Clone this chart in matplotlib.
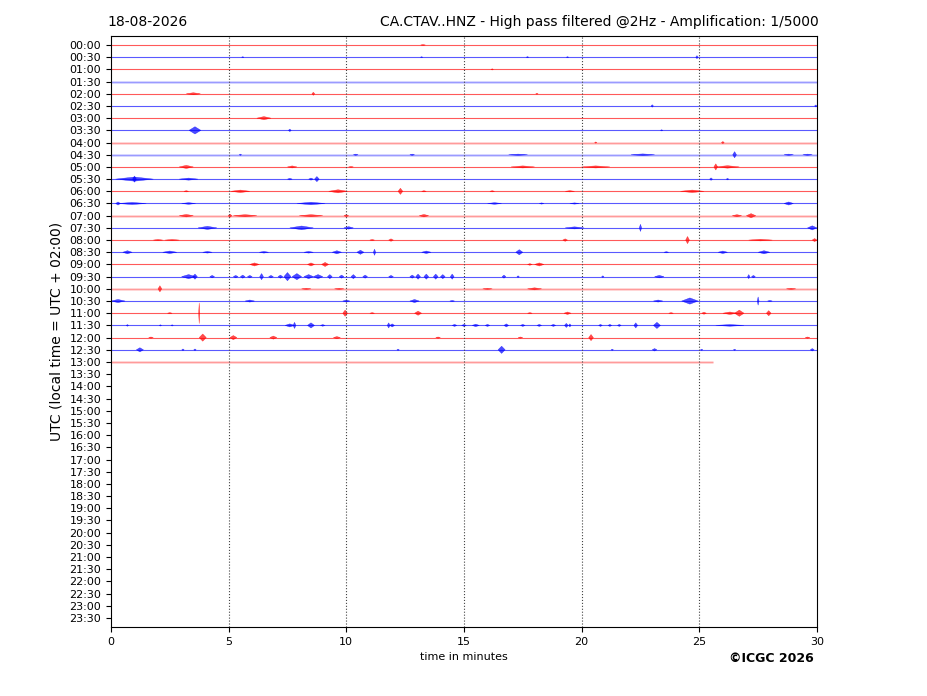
import matplotlib
matplotlib.use("Agg")
import matplotlib.pyplot as plt

# helicorder rows: one every 30 minutes, 00:00 .. 23:30
row_labels = ["%02d:%02d" % (h, m) for h in range(24) for m in (0, 30)]
n_rows_with_data = 27          # 00:00 .. 13:00
last_row_end = 25.6            # minutes recorded in the 13:00 row
pale_rows = [3, 8, 9, 14, 20, 26]   # rows drawn as noisy / faint

# seismic events: row -> [(minute, amplitude in rows, half width)]
events = {
    0: [(13.26, 0.05, 0.1)],
    1: [(5.6, 0.05, 0.05), (13.2, 0.05, 0.05), (17.7, 0.06, 0.05), (19.4, 0.05, 0.05), (24.9, 0.15, 0.05)],
    2: [(16.2, 0.06, 0.05)],
    4: [(3.5, 0.1, 0.3), (8.6, 0.15, 0.06), (18.1, 0.05, 0.05)],
    5: [(23.0, 0.12, 0.05), (29.95, 0.1, 0.05)],
    6: [(6.5, 0.15, 0.3)],
    7: [(3.57, 0.35, 0.25), (7.6, 0.12, 0.06), (23.4, 0.06, 0.05)],
    8: [(20.6, 0.06, 0.05), (26.0, 0.1, 0.06)],
    9: [(5.5, 0.06, 0.05), (10.4, 0.06, 0.1), (12.8, 0.06, 0.1), (17.3, 0.06, 0.4),
        (22.6, 0.08, 0.5), (26.5, 0.3, 0.08), (28.8, 0.06, 0.2), (29.6, 0.06, 0.2)],
    10: [(3.2, 0.15, 0.3), (7.7, 0.1, 0.2), (10.2, 0.05, 0.1), (17.5, 0.1, 0.5),
         (20.6, 0.1, 0.6), (25.7, 0.3, 0.08), (26.2, 0.12, 0.5)],
    11: [(1.0, 0.2, 0.8), (1.0, 0.3, 0.08), (3.3, 0.1, 0.4), (7.6, 0.08, 0.1),
         (8.5, 0.1, 0.1), (8.75, 0.25, 0.1), (25.5, 0.12, 0.06), (26.2, 0.08, 0.05)],
    12: [(3.2, 0.06, 0.1), (5.5, 0.12, 0.4), (9.65, 0.15, 0.4), (12.3, 0.3, 0.1),
         (13.3, 0.06, 0.1), (16.2, 0.06, 0.1), (19.5, 0.06, 0.2), (24.7, 0.12, 0.5)],
    13: [(0.3, 0.15, 0.1), (0.9, 0.1, 0.6), (3.3, 0.08, 0.3), (8.5, 0.12, 0.6),
         (16.3, 0.08, 0.3), (18.3, 0.06, 0.1), (19.7, 0.06, 0.2), (28.8, 0.15, 0.2)],
    14: [(3.2, 0.12, 0.3), (5.06, 0.15, 0.08), (5.7, 0.1, 0.5), (8.5, 0.1, 0.5),
         (10.0, 0.1, 0.1), (13.3, 0.12, 0.2), (26.6, 0.1, 0.2), (27.2, 0.2, 0.2)],
    15: [(4.1, 0.15, 0.4), (8.1, 0.18, 0.5), (10.1, 0.12, 0.2), (19.7, 0.1, 0.4),
         (22.5, 0.35, 0.05), (29.8, 0.2, 0.2)],
    16: [(2.0, 0.06, 0.2), (2.6, 0.06, 0.3), (11.1, 0.06, 0.1), (11.9, 0.12, 0.1),
         (19.3, 0.12, 0.1), (24.5, 0.35, 0.08), (27.6, 0.08, 0.5), (29.9, 0.15, 0.1)],
    17: [(0.7, 0.15, 0.2), (2.5, 0.12, 0.3), (4.1, 0.08, 0.2), (6.5, 0.08, 0.2),
         (8.4, 0.08, 0.2), (9.6, 0.15, 0.2), (10.6, 0.2, 0.15), (11.2, 0.3, 0.05),
         (13.4, 0.12, 0.2), (17.35, 0.25, 0.15), (23.6, 0.06, 0.1), (26.0, 0.12, 0.2),
         (27.75, 0.15, 0.25)],
    18: [(6.1, 0.15, 0.2), (8.5, 0.15, 0.15), (9.1, 0.2, 0.15), (17.8, 0.08, 0.1), (18.2, 0.15, 0.2)],
    19: [(3.3, 0.2, 0.3), (3.57, 0.25, 0.1), (4.3, 0.12, 0.1), (5.3, 0.12, 0.1),
         (5.6, 0.15, 0.1), (5.9, 0.12, 0.1), (6.4, 0.3, 0.08), (6.8, 0.12, 0.1),
         (7.2, 0.15, 0.1), (7.5, 0.4, 0.15), (7.9, 0.3, 0.2), (8.4, 0.2, 0.2),
         (8.8, 0.2, 0.2), (9.3, 0.2, 0.1), (9.8, 0.15, 0.1), (10.3, 0.2, 0.1),
         (10.8, 0.15, 0.1), (11.9, 0.12, 0.1), (12.8, 0.15, 0.1), (13.05, 0.25, 0.1),
         (13.4, 0.25, 0.1), (13.8, 0.25, 0.1), (14.1, 0.2, 0.1), (14.5, 0.25, 0.08),
         (16.7, 0.15, 0.08), (17.3, 0.08, 0.05), (20.9, 0.08, 0.05), (23.3, 0.12, 0.2),
         (27.1, 0.2, 0.05), (27.3, 0.12, 0.08)],
    20: [(2.08, 0.3, 0.08), (8.3, 0.06, 0.2), (9.7, 0.06, 0.2), (16.0, 0.06, 0.2),
         (18.0, 0.1, 0.3), (28.9, 0.06, 0.2)],
    21: [(0.3, 0.15, 0.3), (5.9, 0.1, 0.2), (10.0, 0.1, 0.15), (12.9, 0.15, 0.2),
         (14.5, 0.06, 0.1), (23.25, 0.1, 0.2), (24.6, 0.3, 0.35), (27.5, 0.4, 0.04),
         (28.0, 0.06, 0.1)],
    22: [(2.5, 0.06, 0.1), (3.75, 1.0, 0.025), (9.95, 0.3, 0.1), (11.1, 0.06, 0.1),
         (13.05, 0.2, 0.15), (17.8, 0.06, 0.1), (19.4, 0.12, 0.15), (23.8, 0.06, 0.1),
         (25.2, 0.1, 0.1), (26.3, 0.12, 0.3), (26.7, 0.3, 0.2), (27.95, 0.25, 0.1)],
    23: [(0.7, 0.08, 0.05), (2.1, 0.06, 0.05), (2.6, 0.06, 0.05), (7.6, 0.15, 0.2),
         (7.8, 0.3, 0.06), (8.5, 0.25, 0.15), (9.0, 0.08, 0.1), (11.8, 0.25, 0.06),
         (11.95, 0.15, 0.1), (14.6, 0.1, 0.1), (15.0, 0.1, 0.1), (15.5, 0.12, 0.15),
         (16.0, 0.1, 0.1), (16.8, 0.15, 0.1), (17.5, 0.1, 0.1), (18.2, 0.1, 0.1),
         (18.8, 0.1, 0.1), (19.35, 0.2, 0.08), (19.5, 0.15, 0.05), (20.8, 0.1, 0.08),
         (21.2, 0.1, 0.08), (21.6, 0.1, 0.08), (22.3, 0.25, 0.08), (23.2, 0.3, 0.15),
         (26.3, 0.08, 0.6)],
    24: [(1.7, 0.06, 0.1), (3.9, 0.35, 0.15), (5.2, 0.2, 0.15), (6.9, 0.15, 0.15),
         (9.6, 0.1, 0.15), (13.9, 0.06, 0.1), (17.4, 0.06, 0.1), (20.4, 0.3, 0.1),
         (29.6, 0.06, 0.1)],
    25: [(1.23, 0.2, 0.15), (3.06, 0.08, 0.05), (3.57, 0.08, 0.05), (12.2, 0.06, 0.05),
         (16.6, 0.35, 0.15), (21.3, 0.06, 0.05), (23.1, 0.12, 0.1), (25.1, 0.06, 0.05),
         (26.5, 0.06, 0.05), (29.8, 0.12, 0.08)],
}

x_ticks = [0, 5, 10, 15, 20, 25, 30]
grid_minutes = [5, 10, 15, 20, 25]

fig = plt.figure(figsize=(9.27, 6.96), dpi=100)
ax = fig.add_axes([0.1197, 0.0991, 0.7616, 0.8492])

for i in range(n_rows_with_data):
    color = "red" if i % 2 == 0 else "blue"
    end = last_row_end if i == n_rows_with_data - 1 else 30
    if i in pale_rows:
        ax.hlines(i, 0, end, color=color, lw=2.0, alpha=0.18)
        ax.hlines(i, 0, end, color=color, lw=0.6, alpha=0.3)
    else:
        ax.hlines(i, 0, end, color=color, lw=0.8, alpha=0.65)
    for t, a, w in events.get(i, []):
        a = a * 0.85
        ax.fill([t - w, t, t + w, t], [i, i - a, i, i + a], color=color, lw=0.3, alpha=0.7)

for g in grid_minutes:
    ax.axvline(g, color="#444444", ls=":", lw=0.8)

ax.set_xlim(0, 30)
ax.set_ylim(len(row_labels) - 1 + 0.74, -0.74)
ax.set_xticks(x_ticks)
ax.set_xticklabels([str(v) for v in x_ticks], fontsize=8)
ax.set_yticks(range(len(row_labels)))
ax.set_yticklabels(row_labels, fontsize=8)
ax.tick_params(axis="both", length=3.5)
ax.set_xlabel("time in minutes", fontsize=8)
ax.set_ylabel("UTC (local time = UTC + 02:00)", fontsize=10)

ax.set_title("18-08-2026", loc="left", fontsize=10, x=-0.005, pad=7)
ax.set_title("CA.CTAV..HNZ - High pass filtered @2Hz - Amplification: 1/5000",
             loc="right", fontsize=10, pad=7, x=1.003)
fig.text(0.8318, 0.0545, "©ICGC 2026", fontsize=9, fontweight="bold", ha="center", va="center")

fig.savefig("out.png", dpi=100)
